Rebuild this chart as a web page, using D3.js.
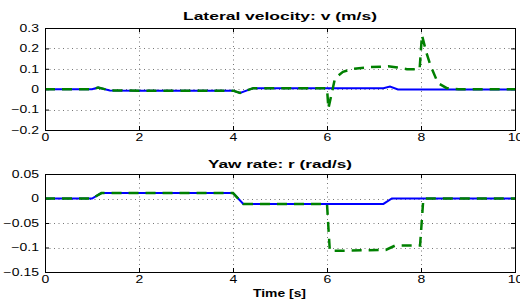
<!DOCTYPE html>
<html>
<head>
<meta charset="utf-8">
<script src="https://cdn.jsdelivr.net/npm/d3@7"></script>
<style>
  html, body { margin: 0; padding: 0; background: #fff; }
  svg { display: block; font-family: "Liberation Sans", Arial, sans-serif; }
</style>
</head>
<body>
<div id="chartDiv"></div>
<script>
// values (piecewise points)
var timeRange = [0, 10];
var xTicks = [0, 2, 4, 6, 8, 10];

var vTicks = [-0.2, -0.1, 0, 0.1, 0.2, 0.3];
var vBlueT = [0, 1.0, 1.13, 1.38, 2, 4.0, 4.15, 4.43, 6.0, 7.2, 7.34, 7.51, 10];
var vBlueY = [0, 0, 0.008, -0.006, -0.007, -0.007, -0.018, 0.005, 0.005, 0.005, 0.013, -0.001, -0.001];
var vGreenT = [0, 1.0, 1.13, 1.38, 2, 4.0, 4.15, 4.43, 6.0, 6.03, 6.17, 6.34, 6.55, 6.9, 7.3, 7.5, 7.7, 7.97, 8.02, 8.12, 8.2, 8.36, 8.55, 8.8, 10];
var vGreenY = [0, 0, 0.008, -0.006, -0.007, -0.007, -0.018, 0.005, 0.005, -0.095, 0.054, 0.085, 0.1, 0.108, 0.112, 0.106, 0.098, 0.097, 0.265, 0.175, 0.118, 0.03, 0.005, 0, 0];

var rTicks = [-0.15, -0.1, -0.05, 0, 0.05];
var rBlueT = [0, 1.0, 1.2, 4.0, 4.22, 7.2, 7.38, 10];
var rBlueY = [0, 0, 0.011, 0.011, -0.011, -0.011, 0, 0];
var rGreenT = [0, 1.0, 1.2, 4.0, 4.22, 6.0, 6.06, 7.25, 7.45, 7.98, 8.05, 10];
var rGreenY = [0, 0, 0.011, 0.011, -0.011, -0.011, -0.107, -0.105, -0.096, -0.096, 0, 0];

var width = 520, height = 300;
var left = 45, right = 515;

var svg = d3.select('#chartDiv').append('svg')
  .attr('width', width)
  .attr('height', height);

var x = d3.scaleLinear().domain(timeRange).range([left, right]);
var fmt = d3.format('~g');

function zip(ts, ys) {
  return ts.map(function (t, i) { return [t, ys[i]]; });
}

function drawPanel(top, bottom, yTicks, series, title, titleLen, titleY) {
  var y = d3.scaleLinear().domain([yTicks[0], yTicks[yTicks.length - 1]]).range([bottom, top]);
  var g = svg.append('g');

  // dotted grid
  g.selectAll('line.gx').data(xTicks.slice(1, -1)).enter().append('line')
    .attr('x1', function (d) { return Math.round(x(d)) + 0.5; })
    .attr('x2', function (d) { return Math.round(x(d)) + 0.5; })
    .attr('y1', top).attr('y2', bottom)
    .attr('stroke', '#777').attr('stroke-dasharray', '1,3.5');
  g.selectAll('line.gy').data(yTicks.slice(1, -1)).enter().append('line')
    .attr('y1', function (d) { return Math.round(y(d)) + 0.5; })
    .attr('y2', function (d) { return Math.round(y(d)) + 0.5; })
    .attr('x1', left).attr('x2', right)
    .attr('stroke', '#777').attr('stroke-dasharray', '1,3.5');

  // axes, ticks pointing in
  var ax = g.append('g').attr('transform', 'translate(0,' + bottom + ')')
    .call(d3.axisBottom(x).tickValues(xTicks).tickSizeInner(-4).tickSizeOuter(0).tickPadding(4).tickFormat(fmt));
  var ay = g.append('g').attr('transform', 'translate(' + left + ',0)')
    .call(d3.axisLeft(y).tickValues(yTicks).tickSizeInner(-4).tickSizeOuter(0).tickPadding(4.3).tickFormat(fmt));
  g.append('g').attr('transform', 'translate(0,' + top + ')')
    .call(d3.axisTop(x).tickValues(xTicks).tickSizeInner(-4).tickSizeOuter(0).tickFormat(''));
  g.append('g').attr('transform', 'translate(' + right + ',0)')
    .call(d3.axisRight(y).tickValues(yTicks).tickSizeInner(-4).tickSizeOuter(0).tickFormat(''));
  g.selectAll('.domain').remove();
  g.selectAll('.tick line').attr('stroke', '#000');
  [ax, ay].forEach(function (a) {
    a.selectAll('text')
      .attr('font-size', 10)
      .attr('font-family', '"Liberation Sans", Arial, sans-serif')
      .attr('fill', '#000')
      .attr('transform', 'scale(1.4,1)');
  });

  var line = d3.line()
    .x(function (d) { return x(d[0]); })
    .y(function (d) { return y(d[1]); });

  series.forEach(function (s) {
    g.append('path')
      .datum(s.data)
      .attr('d', line)
      .attr('fill', 'none')
      .attr('stroke', s.color)
      .attr('stroke-width', s.width)
      .attr('stroke-dasharray', s.dash);
  });

  // frame
  g.append('rect')
    .attr('x', left + 0.5).attr('y', top + 0.5)
    .attr('width', right - left).attr('height', bottom - top)
    .attr('fill', 'none').attr('stroke', '#000');

  svg.append('text')
    .attr('x', (left + right) / 2 - 60 + 60)
    .attr('y', titleY)
    .attr('text-anchor', 'middle')
    .attr('font-weight', 'bold')
    .attr('font-size', 11)
    .attr('textLength', titleLen)
    .attr('lengthAdjust', 'spacingAndGlyphs')
    .text(title);
}

drawPanel(28, 130, vTicks, [
  { data: zip(vBlueT, vBlueY), color: '#0000ff', width: 2, dash: null },
  { data: zip(vGreenT, vGreenY), color: '#008000', width: 2.5, dash: '10,7' }
], 'Lateral velocity: v (m/s)', 194, 19.5);

drawPanel(174, 272, rTicks, [
  { data: zip(rBlueT, rBlueY), color: '#0000ff', width: 2, dash: null },
  { data: zip(rGreenT, rGreenY), color: '#008000', width: 2.5, dash: '10,7' }
], 'Yaw rate: r (rad/s)', 144, 168);

svg.append('text')
  .attr('x', 279.5)
  .attr('y', 297)
  .attr('text-anchor', 'middle')
  .attr('font-weight', 'bold')
  .attr('font-size', 11)
  .attr('textLength', 53)
  .attr('lengthAdjust', 'spacingAndGlyphs')
  .text('Time [s]');
</script>
</body>
</html>
